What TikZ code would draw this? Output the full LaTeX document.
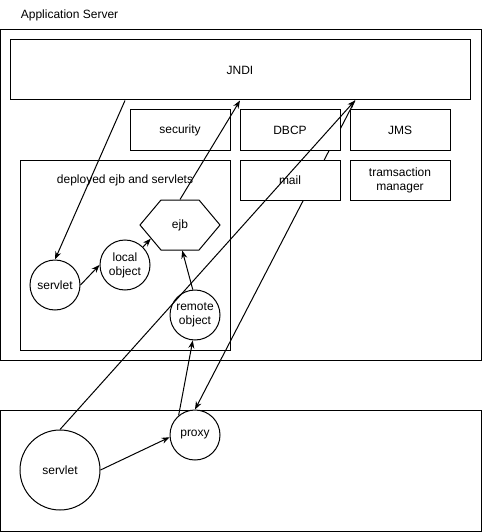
\documentclass[tikz,border=0pt]{standalone}
\usepackage{fontspec}
\setmainfont{Liberation Sans}
\usetikzlibrary{arrows.meta,shapes.symbols,backgrounds}

\begin{document}
\begin{tikzpicture}[x=1pt, y=-1pt, line width=1pt,
		every node/.style={font=\fontsize{12}{14}\selectfont},
		box/.style={draw, fill=white, inner sep=0pt},
		ball/.style={draw, circle, fill=white, inner sep=0pt, align=center},
		arr/.style={line width=1pt, -{Stealth[length=8pt, width=6pt]}}]
			\useasboundingbox (0, 0) rectangle (482, 532);

			\draw (0.5, 30) rectangle (481, 360);
			\draw (0.5, 410) rectangle (481, 531);
			\draw (17, 15) 	node[anchor=west] 												(appsrv) 	{Application Server};

			\draw (240, 70) 	node[box, minimum width=460, minimum height=60] 			(jndi) 		{JNDI};
			\draw (180, 130) 	node[box, minimum width=100, minimum height=40] 			(sec) 		{security};
			\draw (290, 130) 	node[box, minimum width=100, minimum height=40] 			(dbcp) 		{DBCP};
			\draw (400, 130) 	node[box, minimum width=100, minimum height=40] 			(jms) 		{JMS};
			\draw (290, 180) 	node[box, minimum width=100, minimum height=40] 			(mail) 		{mail};
			\draw (400, 180) 	node[box, minimum width=100, minimum height=40, align=center] (tm) 	{tramsaction\\manager};
			\draw (125, 255) 	node[draw, minimum width=210, minimum height=190] 			(dep) 		{};
			\draw (125, 180) 	node 														(deplbl) 	{deployed ejb and servlets};

			\draw (180, 225) 	node[draw, fill=white, signal, signal to=west and east, signal pointer angle=100,
									minimum width=80, minimum height=50, inner sep=0pt] 	(ejb) 		{ejb};
			\draw (55, 285) 	node[ball, minimum size=50] 								(srv) 		{servlet};
			\draw (125, 265) 	node[ball, minimum size=50] 								(lo) 		{local\\object};
			\draw (195, 315) 	node[ball, minimum size=50] 								(ro) 		{remote\\object};
			\draw (60, 470) 	node[ball, minimum size=80] 								(bsrv) 		{servlet};
			\draw (195, 435) 	node[ball, minimum size=50] 								(prx) 		{proxy};

			\begin{scope}[on background layer]
				\draw[arr] ([xshift=115]jndi.south) -- (prx.north);
			\end{scope}

			\draw[arr] ([xshift=-115]jndi.south) -- (srv.north);
			\draw[arr] (srv.east) -- (lo.west);
			\draw[arr] (lo.north east) -- (ejb.205);
			\draw[arr] (ro.95) -- (ejb.275);
			\draw[arr] (ejb.north) -- (jndi.south);
			\draw[arr] (bsrv.north) -- ([xshift=115]jndi.south);
			\draw[arr] (bsrv.east) -- (prx.185);
			\draw[arr] (prx.130) -- (ro.265);
		\end{tikzpicture}
\end{document}
